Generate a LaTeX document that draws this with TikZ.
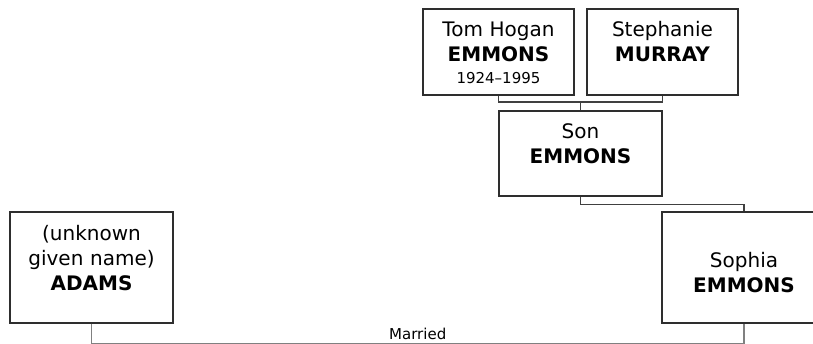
\documentclass[tikz,border=0pt]{standalone}
\usepackage{fontspec}
\setmainfont{DejaVu Sans}
\definecolor{boxline}{HTML}{2E2E2E}
\definecolor{linkline}{HTML}{404040}
\definecolor{marline}{HTML}{808080}
\begin{document}
\begin{tikzpicture}[x=1pt,y=-1pt,font=\fontsize{20}{25}\selectfont,
  pbox/.style 2 args={draw=boxline,line width=1.2pt,fill=white,inner sep=0pt,minimum width=#1,minimum height=#2},
  ptext/.style={anchor=base,text width=170pt,align=center,inner sep=0pt},
  link/.style={draw=linkline,line width=1.2pt},
  marr/.style={draw=marline,line width=1.1pt}]
\clip (0,0) rectangle (813,344);
\foreach \n/\x/\y/\w/\h in {tom/498.5/52/151/86,steph/662.5/52/151/86,son/580.5/153.5/163/85,adams/91.5/267.5/163/111,sophia/744/267.5/164/111}{\node[pbox={\w}{\h}] (\n) at (\x,\y) {};}
\node[ptext] (tomtxt) at (498.5,37) {Tom Hogan\\\textbf{EMMONS}\\[-3pt]{\fontsize{15}{18}\selectfont 1924–1995}};
\node[ptext] (stephtxt) at (662.5,37) {Stephanie\\\textbf{MURRAY}};
\node[ptext] (sontxt) at (580.5,139) {Son\\\textbf{EMMONS}};
\node[ptext] (adamstxt) at (91.5,241) {(unknown\\given name)\\\textbf{ADAMS}};
\node[ptext] (sophiatxt) at (744,268) {Sophia\\\textbf{EMMONS}};
\coordinate (pbar) at (580.5,102);
\draw[link] (tom.south) |- (pbar) -| (steph.south);\draw[link] (pbar) -- (son.north);
\draw[link] (son.south) -- ++(0,8) -| (sophia.north);
\draw[marr] (adams.south) -- ++(0,19.5) -| node[pos=.25,anchor=base,yshift=4pt,font=\fontsize{15}{18}\selectfont] (married) {Married} (sophia.south);
\end{tikzpicture}
\end{document}
